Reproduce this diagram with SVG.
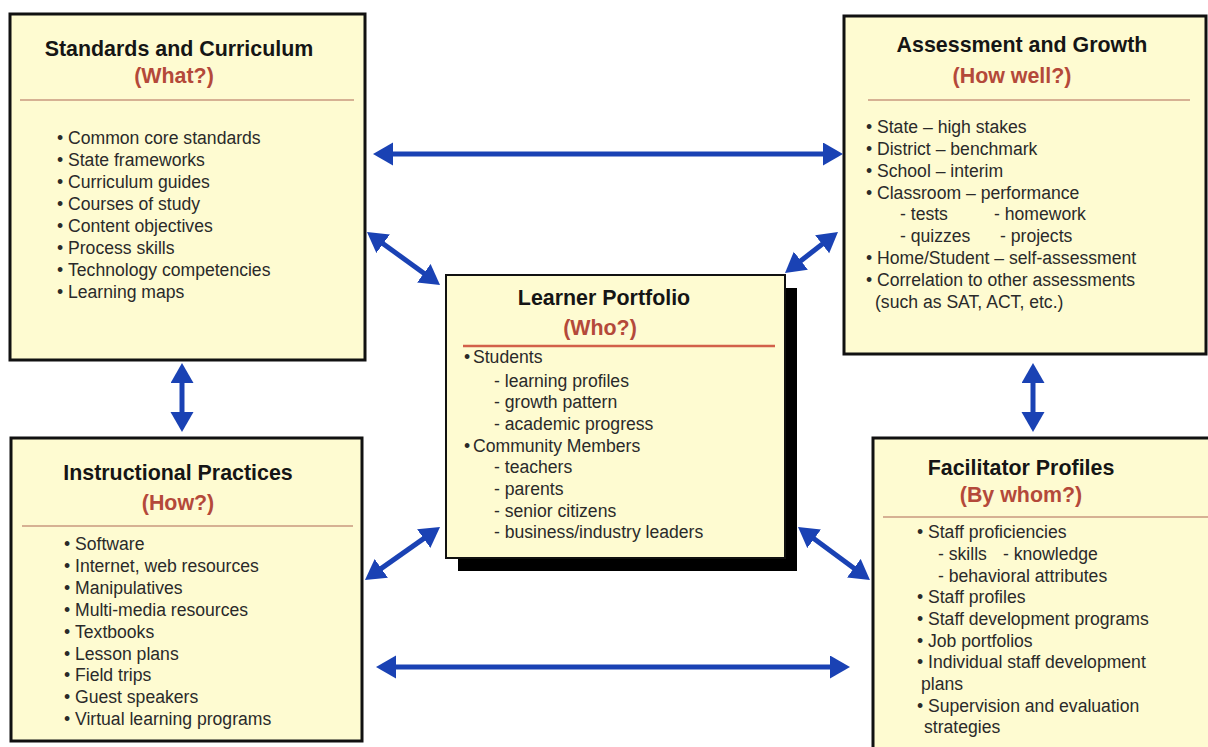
<svg xmlns="http://www.w3.org/2000/svg" width="1208" height="747" viewBox="0 0 1208 747">
<defs>
<style>
.box{fill:#fefbd1;stroke:#111;stroke-width:3}
.title{font-family:"Liberation Sans",Arial,sans-serif;font-weight:bold;font-size:21.4px;fill:#151515;text-anchor:middle}
.q{font-family:"Liberation Sans",Arial,sans-serif;font-weight:bold;font-size:21.4px;fill:#b4493a;text-anchor:middle}
.sep{stroke:#c9987e;stroke-width:1.5}
.it{font-family:"Liberation Sans",Arial,sans-serif;font-size:17.6px;fill:#2a2a2a}
.arr{stroke:#1a42b4;stroke-width:5;fill:none;marker-start:url(#ah);marker-end:url(#ah)}
</style>
<marker id="ah" markerUnits="userSpaceOnUse" markerWidth="22" markerHeight="24" refX="6" refY="11.5" orient="auto-start-reverse">
<path d="M0,0 L20,11.5 L0,23 Z" fill="#1a42b4"/>
</marker>
</defs>
<rect width="1208" height="747" fill="#fff"/>

<g id="standards">
<rect class="box" x="10" y="14" width="355" height="346"/>
<text class="title" x="179" y="56">Standards and Curriculum</text>
<text class="q" x="174" y="83">(What?)</text>
<line class="sep" x1="20" y1="100" x2="354" y2="100"/>
<text class="it"><tspan x="57" y="144">•</tspan><tspan x="68">Common core standards</tspan></text>
<text class="it"><tspan x="57" y="166">•</tspan><tspan x="68">State frameworks</tspan></text>
<text class="it"><tspan x="57" y="188">•</tspan><tspan x="68">Curriculum guides</tspan></text>
<text class="it"><tspan x="57" y="210">•</tspan><tspan x="68">Courses of study</tspan></text>
<text class="it"><tspan x="57" y="232">•</tspan><tspan x="68">Content objectives</tspan></text>
<text class="it"><tspan x="57" y="254">•</tspan><tspan x="68">Process skills</tspan></text>
<text class="it"><tspan x="57" y="276">•</tspan><tspan x="68">Technology competencies</tspan></text>
<text class="it"><tspan x="57" y="298">•</tspan><tspan x="68">Learning maps</tspan></text>
</g>

<g id="assessment">
<rect class="box" x="844" y="16" width="362" height="338"/>
<text class="title" x="1022" y="52">Assessment and Growth</text>
<text class="q" x="1012" y="83">(How well?)</text>
<line class="sep" x1="868" y1="100" x2="1190" y2="100"/>
<text class="it"><tspan x="866" y="133">•</tspan><tspan x="877">State – high stakes</tspan></text>
<text class="it"><tspan x="866" y="155">•</tspan><tspan x="877">District – benchmark</tspan></text>
<text class="it"><tspan x="866" y="177">•</tspan><tspan x="877">School – interim</tspan></text>
<text class="it"><tspan x="866" y="199">•</tspan><tspan x="877">Classroom – performance</tspan></text>
<text class="it"><tspan x="900" y="220">- tests</tspan><tspan x="994">- homework</tspan></text>
<text class="it"><tspan x="900" y="242">- quizzes</tspan><tspan x="1000">- projects</tspan></text>
<text class="it"><tspan x="866" y="264">•</tspan><tspan x="877">Home/Student – self-assessment</tspan></text>
<text class="it"><tspan x="866" y="286">•</tspan><tspan x="877">Correlation to other assessments</tspan></text>
<text class="it" x="875" y="308">(such as SAT, ACT, etc.)</text>
</g>

<g id="learner">
<rect x="458" y="288" width="339" height="283" fill="#000"/>
<rect class="box" x="446" y="275" width="339" height="283" style="stroke-width:2"/>
<text class="title" x="604" y="305">Learner Portfolio</text>
<text class="q" x="600" y="335">(Who?)</text>
<line x1="463" y1="346" x2="775" y2="346" stroke="#d2604a" stroke-width="2.5"/>
<text class="it"><tspan x="464" y="363">•</tspan><tspan x="473">Students</tspan></text>
<text class="it" x="494" y="387">- learning profiles</text>
<text class="it" x="494" y="408">- growth pattern</text>
<text class="it" x="494" y="430">- academic progress</text>
<text class="it"><tspan x="464" y="452">•</tspan><tspan x="473">Community Members</tspan></text>
<text class="it" x="494" y="473">- teachers</text>
<text class="it" x="494" y="495">- parents</text>
<text class="it" x="494" y="517">- senior citizens</text>
<text class="it" x="494" y="538">- business/industry leaders</text>
</g>

<g id="instructional">
<rect class="box" x="11" y="438" width="351" height="303"/>
<text class="title" x="178" y="480">Instructional Practices</text>
<text class="q" x="178" y="510">(How?)</text>
<line class="sep" x1="22" y1="526" x2="353" y2="526"/>
<text class="it"><tspan x="64" y="550">•</tspan><tspan x="75">Software</tspan></text>
<text class="it"><tspan x="64" y="572">•</tspan><tspan x="75">Internet, web resources</tspan></text>
<text class="it"><tspan x="64" y="594">•</tspan><tspan x="75">Manipulatives</tspan></text>
<text class="it"><tspan x="64" y="616">•</tspan><tspan x="75">Multi-media resources</tspan></text>
<text class="it"><tspan x="64" y="638">•</tspan><tspan x="75">Textbooks</tspan></text>
<text class="it"><tspan x="64" y="660">•</tspan><tspan x="75">Lesson plans</tspan></text>
<text class="it"><tspan x="64" y="681">•</tspan><tspan x="75">Field trips</tspan></text>
<text class="it"><tspan x="64" y="703">•</tspan><tspan x="75">Guest speakers</tspan></text>
<text class="it"><tspan x="64" y="725">•</tspan><tspan x="75">Virtual learning programs</tspan></text>
</g>

<g id="facilitator">
<rect class="box" x="873" y="438" width="345" height="320"/>
<text class="title" x="1021" y="475">Facilitator Profiles</text>
<text class="q" x="1021" y="502">(By whom?)</text>
<line class="sep" x1="883" y1="517" x2="1208" y2="517"/>
<text class="it"><tspan x="917" y="538">•</tspan><tspan x="928">Staff proficiencies</tspan></text>
<text class="it"><tspan x="938" y="560">- skills</tspan><tspan x="1003">- knowledge</tspan></text>
<text class="it" x="938" y="582">- behavioral attributes</text>
<text class="it"><tspan x="917" y="603">•</tspan><tspan x="928">Staff profiles</tspan></text>
<text class="it"><tspan x="917" y="625">•</tspan><tspan x="928">Staff development programs</tspan></text>
<text class="it"><tspan x="917" y="647">•</tspan><tspan x="928">Job portfolios</tspan></text>
<text class="it"><tspan x="917" y="668">•</tspan><tspan x="928">Individual staff development</tspan></text>
<text class="it" x="921" y="690">plans</text>
<text class="it"><tspan x="917" y="712">•</tspan><tspan x="928">Supervision and evaluation</tspan></text>
<text class="it" x="924" y="733">strategies</text>
</g>

<g id="connectors">
<line class="arr" x1="387" y1="154" x2="829" y2="154"/>
<line class="arr" x1="390" y1="667" x2="836" y2="667"/>
<line class="arr" x1="182" y1="377" x2="182" y2="418"/>
<line class="arr" x1="1033" y1="377" x2="1033" y2="418"/>
<line class="arr" x1="378.3" y1="240.2" x2="428.7" y2="276.8"/>
<line class="arr" x1="796.1" y1="264.4" x2="826.9" y2="240.6"/>
<line class="arr" x1="376.4" y1="571.9" x2="428.6" y2="535.1"/>
<line class="arr" x1="809.3" y1="535.3" x2="858.7" y2="571.7"/>
</g>
</svg>
